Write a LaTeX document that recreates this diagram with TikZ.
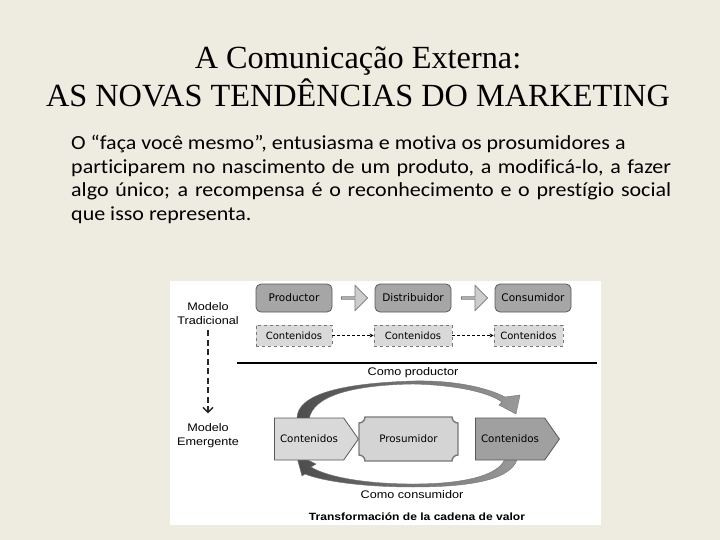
\documentclass[tikz,border=0pt]{standalone}
\usepackage{fontspec}
\setmainfont{Carlito}[FakeStretch=1.1, Ligatures=NoCommon]
\newfontfamily\titlefont{Liberation Serif}
\newfontfamily\labfont[FakeStretch=1.15]{Liberation Sans}
\newfontfamily\boxfont{DejaVu Sans}
\usetikzlibrary{shapes.arrows,shapes.symbols,arrows.meta}
\definecolor{slidebg}{RGB}{238,236,225}
\definecolor{boxfill}{RGB}{166,166,166}
\definecolor{boxedge}{RGB}{89,89,89}
\definecolor{lightfill}{RGB}{217,217,217}
\definecolor{dashedge}{RGB}{120,120,120}
\definecolor{arrowfill}{RGB}{205,205,205}
\definecolor{darkfill}{RGB}{160,160,160}
\definecolor{prosfill}{RGB}{212,212,212}

\begin{document}
\begin{tikzpicture}[x=1pt, y=-1pt,
  every node/.style={inner sep=0pt},
  actor/.style={draw=boxedge, fill=boxfill, rounded corners=5pt, line width=0.8pt,
    minimum width=76pt, minimum height=28pt, font=\boxfont\fontsize{10.5}{12}\selectfont},
  content/.style={draw=dashedge, dashed, fill=lightfill, line width=0.8pt,
    minimum height=21pt, font=\boxfont\fontsize{10}{12}\selectfont},
  flow/.style={single arrow, draw=dashedge, fill=arrowfill, line width=0.8pt,
    minimum height=26pt, minimum width=25pt, single arrow head extend=4pt},
  pointer/.style={signal, signal to=east, signal pointer angle=110, draw=boxedge,
    line width=0.8pt, minimum width=84pt, minimum height=42pt,
    font=\boxfont\fontsize{10.3}{12}\selectfont},
  label/.style={font=\labfont\fontsize{11}{13.5}\selectfont, align=center},
  handoff/.style={dashed, dash pattern=on 3pt off 2pt, line width=0.8pt,
    -{Stealth[length=4pt,width=4pt]}},
  turn/.style={left color=black!70, right color=black!40, draw=black!55, line width=0.4pt}]
  \fill[slidebg] (0,0) rectangle (720,540);
  \fill[white] (170,281) rectangle (601,525);

  \node[font=\titlefont\fontsize{32.3}{38}\selectfont, align=center, anchor=north] (title) at (358,47)
    {A Comunicação Externa:\\AS NOVAS TENDÊNCIAS DO MARKETING};
  \node[font=\fontsize{20}{23.5}\selectfont, text width=600pt, align=justify, anchor=north west] (body) at (71,135)
    {\hyphenpenalty=10000 O “faça você mesmo”, entusiasma e motiva os prosumidores a\\ participarem no nascimento de um produto, a modificá-lo, a fazer\linebreak algo único; a recompensa é o reconhecimento e o prestígio social\linebreak que isso representa.};

  \node[actor] (prod) at (294,298) {Productor};
  \node[actor] (dist) at (413,298) {Distribuidor};
  \node[actor] (cons) at (533,298) {Consumidor};
  \node[flow] (flow1) at (354,298) {};
  \node[flow] (flow2) at (474,298) {};
  \node[content, minimum width=76pt] (cont1) at (294,335.5) {Contenidos};
  \node[content, minimum width=78pt] (cont2) at (413,335.5) {Contenidos};
  \node[content, minimum width=69pt] (cont3) at (528.5,335.5) {Contenidos};
  \draw[handoff] (cont1) -- (cont2);
  \draw[handoff] (cont2) -- (cont3);

  \node[label] (trad) at (208,313.5) {Modelo\\Tradicional};
  \node[label] (emerg) at (208,435.5) {Modelo\\Emergente};
  \draw[line width=2.6pt, dash pattern=on 6pt off 3.5pt, black!85, shorten <=6pt, shorten >=10pt,
    -{Straight Barb[length=5pt,width=10pt,line width=1.4pt]}] (trad) -- (emerg);

  \draw[line width=1.3pt] (237,363) -- (597,363);
  \node[label] (asprod) at (413,373) {Como productor};

  \shade[turn] (297,420) .. controls (295,392) and (350,383) .. (413,381)
    .. controls (458,380) and (490,389) .. (505,397) -- (520,395) -- (516,414) -- (499,405) -- (502,402)
    .. controls (488,392) and (455,385) .. (413,384)
    .. controls (355,385) and (312,395) .. (309,420) -- cycle;
  \shade[turn] (518,455) .. controls (516,480) and (470,487) .. (413,487)
    .. controls (362,487) and (322,481) .. (305,474) -- (302,476) -- (296,454) -- (316,464) -- (311,467)
    .. controls (327,477) and (366,484) .. (413,484)
    .. controls (462,484) and (503,476) .. (506,455) -- cycle;

  \node[pointer, fill=lightfill, anchor=west] (contin) at (274,439) {Contenidos\hspace{8pt}};
  \node[minimum width=99pt, minimum height=44pt, font=\boxfont\fontsize{10}{12}\selectfont] (prosum) at (408.5,439) {};
  \draw[fill=prosfill, draw=dashedge, line width=1.4pt]
    (365,417) -- (452,417) .. controls (452,420.3) and (454.7,423) .. (458,423)
    -- (458,455) .. controls (454.7,455) and (452,457.7) .. (452,461)
    -- (365,461) .. controls (365,457.7) and (362.3,455) .. (359,455)
    -- (359,423) .. controls (362.3,423) and (365,420.3) .. (365,417) -- cycle;
  \node[font=\boxfont\fontsize{10.3}{12}\selectfont] at (prosum) {Prosumidor};
  \node[pointer, fill=darkfill, anchor=west] (contout) at (475,439) {Contenidos\hspace{8pt}};

  \node[label] (ascons) at (412,495) {Como consumidor};
  \node[label, font=\labfont\bfseries\fontsize{10.5}{13}\selectfont] (caption) at (417,517)
    {Transformación de la cadena de valor};
\end{tikzpicture}
\end{document}
